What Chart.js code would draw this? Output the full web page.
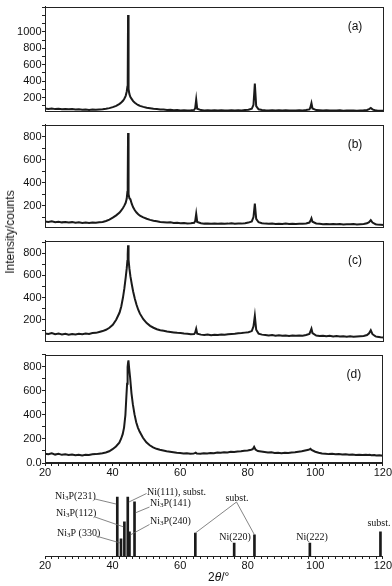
<!DOCTYPE html>
<html>
<head>
<meta charset="utf-8">
<script src="https://cdn.jsdelivr.net/npm/chart.js@4.4.0/dist/chart.umd.min.js"></script>
<style>
  html, body { margin: 0; padding: 0; background: #fff; }
  #wrap { position: relative; width: 392px; height: 586px; overflow: hidden; background: #fff; }
  #wrap canvas { position: absolute; left: 0; }
  #ylabel {
    position: absolute; left: 10px; top: 232px;
    transform: translate(-50%, -50%) rotate(-90deg);
    font: 12px "Liberation Sans", Arial, sans-serif; color: #111; white-space: nowrap;
  }
</style>
</head>
<body>
<div id="wrap">
  <canvas id="panelA" width="392" height="118" style="top:0px"></canvas>
  <canvas id="panelB" width="392" height="116" style="top:118px"></canvas>
  <canvas id="panelC" width="392" height="114" style="top:234px"></canvas>
  <canvas id="panelD" width="392" height="128" style="top:348px"></canvas>
  <canvas id="sticks" width="392" height="110" style="top:476px"></canvas>
  <div id="ylabel">Intensity/counts</div>
</div>
<script>
// 2theta grid (deg), shared by the four patterns
const twoTheta = [20,21,22,23,24,25,26,27,28,29,30,31,32,33,34,35,36,37,38,39,40,41,42,
  42.5,43,43.4,43.8,44.1,44.3,44.4,44.5,44.6,44.7,44.9,45.2,45.6,46,46.5,47,47.5,
  48,49,50,51,52,53,54,55,56,57,58,59,60,61,62,63,64,
  64.3,64.6,64.9,
  66,67,68,69,70,71,72,73,74,75,76,77,78,79,80,81,
  81.5,81.9,82.3,
  83,84,85,86,87,88,89,90,91,92,93,94,95,96,97,98,
  98.3,98.6,98.9,
  100,101,102,103,104,105,106,107,108,109,110,111,112,113,114,115,
  115.6,116.1,116.6,
  117.5,118,119,120];

const intensityA = [64,60,66,58,62,57,60,55,58,52,55,50,53,48,52,50,54,56,62,70,82,98,122,
  138,160,185,220,270,330,390,1206,420,300,240,205,180,155,135,120,108,
  98,85,74,68,62,58,54,52,48,50,45,46,42,45,41,44,48,
  70,175,62,
  46,42,44,40,43,41,44,40,42,45,41,43,42,46,50,62,
  110,370,95,
  55,47,44,42,44,40,43,41,44,40,42,41,43,42,46,55,
  80,130,65,
  46,44,41,43,40,42,40,43,39,41,40,42,39,41,43,48,
  58,72,55,
  42,40,38,37];

const intensityB = [62,58,64,56,60,54,58,52,56,50,54,49,52,48,53,50,55,58,66,78,95,115,140,
  158,180,200,225,260,320,400,835,420,300,265,255,215,185,160,140,125,
  112,98,86,76,68,63,58,56,52,54,49,50,47,49,45,47,50,
  65,128,58,
  46,43,45,41,44,42,45,41,43,46,42,44,43,47,52,62,
  100,218,85,
  55,46,43,41,43,39,42,40,43,39,41,40,42,41,45,52,
  68,90,60,
  44,41,38,40,37,39,37,40,36,38,37,39,36,38,40,46,
  56,74,52,
  38,36,33,30];

const intensityC = [76,72,80,70,75,68,74,66,72,68,74,70,76,72,80,82,90,98,110,128,155,200,265,
  320,400,480,580,660,730,790,870,800,740,660,590,520,455,390,335,290,
  255,205,170,145,128,115,106,100,94,90,86,82,80,76,74,70,72,
  85,119,75,
  66,62,66,60,64,62,68,64,70,72,74,78,80,84,88,98,
  140,235,110,
  75,66,62,58,62,56,60,55,58,54,57,55,58,56,62,72,
  95,119,80,
  58,54,56,52,55,50,53,50,52,48,51,48,50,52,54,62,
  78,105,70,
  50,46,42,40];

const intensityD = [78,74,80,70,76,68,72,66,70,64,68,62,68,66,72,74,78,82,88,98,115,138,170,
  200,240,295,400,560,660,740,800,840,855,790,710,580,490,405,340,295,
  262,210,172,148,130,118,110,104,98,94,90,86,84,80,82,78,80,
  82,86,80,
  78,82,80,84,82,88,86,90,88,94,92,96,98,102,104,110,
  115,135,112,
  100,96,92,88,90,84,86,82,86,84,88,90,94,98,104,110,
  114,118,108,
  94,86,80,78,74,76,72,74,70,72,68,70,66,68,66,68,
  66,68,64,
  66,62,64,60];

// reference line pattern (bottom panel)
const refPositions = [41.4, 42.5, 43.5, 44.5, 45.0, 46.5, 64.5, 76.0, 82.0, 98.4, 119.3];
const refHeights   = [100, 29, 58, 100, 41, 92, 39, 22, 36, 22, 41];
const refNames = ['Ni_3P(231)', 'Ni_3P (330)', 'Ni_3P(112)', 'Ni(111), subst.', 'Ni_3P(240)',
  'Ni_3P(141)', 'subst.', 'Ni(220)', 'subst.', 'Ni(222)', 'subst.'];

const xTickLabels = [20, 40, 60, 80, 100, 120];
const yTickLabelsA = [200, 400, 600, 800, 1000];
const yTickLabels = [200, 400, 600, 800];
const yTickLabelsD = [0, 200, 400, 600, 800];

Chart.defaults.font.family = '"Liberation Sans", Arial, sans-serif';
Chart.defaults.font.size = 11;
Chart.defaults.color = '#111';

const INK = '#1a1a1a';

// tick marks at every multiple of step inside the axis range
function evenTicks(step) {
  return s => {
    const t = [];
    for (let v = Math.ceil(s.min / step) * step; v <= s.max + 1e-9; v += step) t.push({ value: v });
    s.ticks = t;
  };
}

// frame, panel letter and y tick labels (placed with the y scale)
const panelBox = {
  id: 'panelBox',
  afterDraw(chart, args, opts) {
    const { ctx, chartArea: a } = chart;
    const ys = chart.scales.y;
    ctx.save();
    ctx.strokeStyle = '#222';
    ctx.lineWidth = 1;
    ctx.strokeRect(Math.round(a.left) + 0.5, Math.round(a.top) + 0.5,
      Math.round(a.right - a.left) - 1, Math.round(a.bottom - a.top) - 1);
    ctx.fillStyle = '#111';
    ctx.font = '11px "Liberation Sans", Arial, sans-serif';
    ctx.textAlign = 'right';
    ctx.textBaseline = 'middle';
    opts.labels.forEach(v => {
      ctx.fillText(v === 0 ? '0.0' : String(v), a.left - 3.5, ys.getPixelForValue(v));
    });
    ctx.font = '12px "Liberation Sans", Arial, sans-serif';
    ctx.textAlign = 'center';
    ctx.fillText(opts.tag, a.right - 29, a.top + 20);
    ctx.restore();
  }
};

function makePanel(id, values, tag, yMin, yMax, labels, showX, pad) {
  new Chart(document.getElementById(id), {
    type: 'line',
    data: {
      datasets: [{
        data: twoTheta.map((x, i) => ({ x: x, y: values[i] })),
        borderColor: INK,
        borderWidth: 2,
        pointRadius: 0,
        tension: 0
      }]
    },
    options: {
      responsive: false,
      animation: false,
      events: [],
      layout: { padding: { top: pad[0], bottom: pad[1], right: 8, left: 0 } },
      plugins: {
        legend: { display: false }, tooltip: { enabled: false },
        panelBox: { tag: tag, labels: labels }
      },
      scales: {
        x: {
          type: 'linear', min: 20, max: 120, display: showX,
          grid: { drawOnChartArea: false, tickLength: 3, color: '#222' },
          border: { color: '#222' },
          ticks: {
            autoSkip: false, maxRotation: 0, padding: 0,
            callback: v => xTickLabels.includes(v) ? String(v) : ''
          },
          afterBuildTicks: evenTicks(2),
          afterFit: s => { if (showX) s.height = 13; }
        },
        y: {
          min: yMin, max: yMax,
          grid: { drawOnChartArea: false, tickLength: 3, color: '#222' },
          border: { color: '#222' },
          ticks: { autoSkip: false, padding: 0, callback: () => '' },
          afterBuildTicks: evenTicks(100),
          afterFit: s => { s.width = 45; }
        }
      }
    },
    plugins: [panelBox]
  });
}

makePanel('panelA', intensityA, '(a)', 30, 1310, yTickLabelsA, false, [5, 1]);
makePanel('panelB', intensityB, '(b)', 10, 908, yTickLabels, false, [1, 1]);
makePanel('panelC', intensityC, '(c)', 5, 913, yTickLabels, false, [1, 1]);
makePanel('panelD', intensityD, '(d)', 0, 903, yTickLabelsD, true, [1, 0]);

// labels of the reference lines, placed in canvas pixels
const labelLayout = [
  { i: [0], x: 55, y: 20, align: 'left', from: [95, 23], dx: -1, dy: 7 },
  { i: [2], x: 56, y: 37, align: 'left', from: [95, 41], dx: -1, dy: 5 },
  { i: [1], x: 57, y: 57, align: 'left', from: [96, 60], dx: -1, dy: 4 },
  { i: [3], x: 147, y: 16, align: 'left', from: [146.5, 17.5], dx: 1, dy: 5 },
  { i: [5], x: 150, y: 27, align: 'left', from: [149.5, 31], dx: 1, dy: 11 },
  { i: [4], x: 150, y: 45, align: 'left', from: [149.5, 48.5], dx: 1, dy: 3 },
  { i: [6, 8], x: 237, y: 22, align: 'center', from: [236.5, 26], dx: 0, dy: 0 },
  { i: [7], x: 235, y: 61, align: 'center' },
  { i: [9], x: 312, y: 61, align: 'center' },
  { i: [10], x: 379, y: 47, align: 'center' }
];

function drawRich(ctx, label, x, y, align) {
  const parts = label.split(/_(\d)/);
  const big = '10px "Liberation Serif", "Times New Roman", serif';
  const small = '7px "Liberation Serif", "Times New Roman", serif';
  let w = 0;
  parts.forEach((t, k) => { ctx.font = k % 2 ? small : big; w += ctx.measureText(t).width; });
  let cx = align === 'center' ? x - w / 2 : x;
  ctx.textAlign = 'left';
  ctx.textBaseline = 'middle';
  parts.forEach((t, k) => {
    ctx.font = k % 2 ? small : big;
    ctx.fillText(t, cx, k % 2 ? y + 2.5 : y);
    cx += ctx.measureText(t).width;
  });
}

const stickLabels = {
  id: 'stickLabels',
  afterDraw(chart) {
    const { ctx, scales } = chart;
    ctx.save();
    ctx.fillStyle = '#111';
    labelLayout.forEach(L => {
      drawRich(ctx, refNames[L.i[0]], L.x, L.y, L.align);
      if (L.from) {
        ctx.strokeStyle = '#666';
        ctx.lineWidth = 0.8;
        L.i.forEach(i => {
          const px = scales.x.getPixelForValue(refPositions[i]) + L.dx;
          const py = scales.y.getPixelForValue(refHeights[i]) + L.dy;
          ctx.beginPath();
          ctx.moveTo(L.from[0], L.from[1]);
          ctx.lineTo(px, py);
          ctx.stroke();
        });
      }
    });
    // axis title
    const tx = 208, ty = 102;
    ctx.font = '12px "Liberation Sans", Arial, sans-serif';
    ctx.textBaseline = 'middle';
    ctx.fillText('2', tx, ty);
    let cx = tx + ctx.measureText('2').width;
    ctx.font = 'italic 12px "Liberation Sans", Arial, sans-serif';
    ctx.fillText('\u03b8', cx, ty);
    cx += ctx.measureText('\u03b8').width;
    ctx.font = '12px "Liberation Sans", Arial, sans-serif';
    ctx.fillText('/\u00b0', cx, ty);
    ctx.restore();
  }
};

new Chart(document.getElementById('sticks'), {
  type: 'bar',
  data: {
    datasets: [{
      data: refPositions.map((x, i) => ({ x: x, y: refHeights[i] })),
      backgroundColor: INK,
      barThickness: 2
    }]
  },
  options: {
    responsive: false,
    animation: false,
    events: [],
    layout: { padding: { top: 4, left: 45, right: 8, bottom: 0 } },
    plugins: { legend: { display: false }, tooltip: { enabled: false } },
    scales: {
      x: {
        type: 'linear', min: 20, max: 120, offset: false,
        grid: { drawOnChartArea: false, offset: false, tickLength: 3, color: '#222' },
        border: { color: '#222' },
        ticks: {
          autoSkip: false, maxRotation: 0, padding: 0,
          callback: v => xTickLabels.includes(v) ? String(v) : ''
        },
        afterBuildTicks: evenTicks(2),
        afterFit: s => { s.height = 30; }
      },
      y: { display: false, min: 0, max: 129 }
    }
  },
  plugins: [stickLabels]
});
</script>
</body>
</html>
